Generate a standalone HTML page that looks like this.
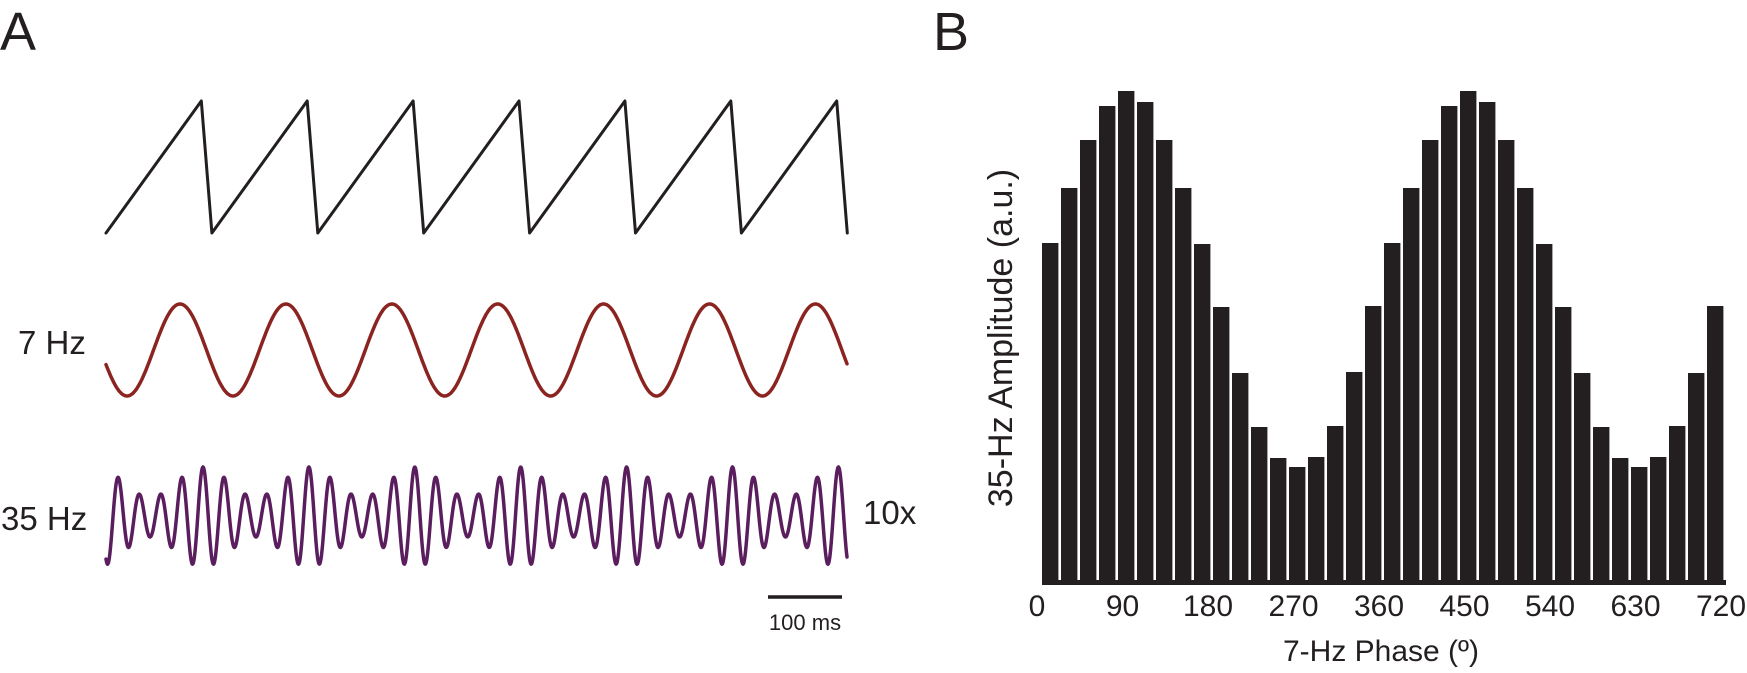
<!DOCTYPE html>
<html><head><meta charset="utf-8"><style>
html,body{margin:0;padding:0;background:#fff;}
svg{display:block;font-family:"Liberation Sans",Arial,sans-serif;}
</style></head><body>
<svg id="fig" width="1747" height="673" viewBox="0 0 1747 673">
<text x="0" y="50" font-size="54" fill="#231f20">A</text>
<text x="933" y="50" font-size="54" fill="#231f20">B</text>
<g id="panelA">
<text x="18" y="354" font-size="33" fill="#231f20">7 Hz</text>
<text x="1" y="530" font-size="33" fill="#231f20">35 Hz</text>
<text x="863" y="524" font-size="33" fill="#231f20">10x</text>
<line x1="768" y1="597" x2="842" y2="597" stroke="#231f20" stroke-width="3.5"/>
<text x="805" y="630" font-size="22" text-anchor="middle" fill="#231f20">100 ms</text>
</g>
<g id="panelB">
<text transform="translate(1012,338) rotate(-90)" font-size="34" text-anchor="middle" fill="#231f20">35-Hz Amplitude (a.u.)</text>
<text x="1381" y="661" font-size="30" text-anchor="middle" fill="#231f20">7-Hz Phase (º)</text>
</g>
</svg>
<script>
const phaseBins = [];
for (let i = 0; i < 36; i++) phaseBins.push(i * 20);
const amplitudes = [340,395,443,477,492,481,443,395,339,276,210,156,125,116,126,157,211,277,
                    340,395,443,477,492,481,443,395,339,276,210,156,125,116,126,157,210,277];
const tickLabels = [0,90,180,270,360,450,540,630,720];
const cycleCount = [7];
const carrierRatio = [5];
const envelopeDepth = [15];

const NS = "http://www.w3.org/2000/svg";
const gB = document.getElementById('panelB');
const gA = document.getElementById('panelA');

const x0 = 1037, x1 = 1721, base = 583, yScale = 1.0;
const xs = d => x0 + (d / 720) * (x1 - x0);
const ys = v => base - v * yScale;

phaseBins.forEach((p, i) => {
  const r = document.createElementNS(NS, 'rect');
  const xa = xs(p) + 5, xb = xs(p + 20) + 5;
  r.setAttribute('x', xa);
  r.setAttribute('y', ys(amplitudes[i]));
  r.setAttribute('width', xb - xa - 2.6);
  r.setAttribute('height', base + 2 - ys(amplitudes[i]));
  r.setAttribute('fill', '#231f20');
  
  
  gB.appendChild(r);
});
const baseLine = document.createElementNS(NS, 'rect');
baseLine.setAttribute('x', xs(0) + 5);
baseLine.setAttribute('y', base - 3);
baseLine.setAttribute('width', xs(720) - xs(0));
baseLine.setAttribute('height', 5);
baseLine.setAttribute('fill', '#231f20');


gB.appendChild(baseLine);
tickLabels.forEach(t => {
  const tx = document.createElementNS(NS, 'text');
  tx.setAttribute('x', xs(t));
  tx.setAttribute('y', 616);
  tx.setAttribute('font-size', '30');
  tx.setAttribute('text-anchor', 'middle');
  tx.setAttribute('fill', '#231f20');
  tx.textContent = t;
  
  
  gB.appendChild(tx);
});

const ax0 = 106, period = 105.9, ax1 = ax0 + period * cycleCount[0];
let saw = '';
for (let k = 0; k < cycleCount[0]; k++) {
  const s = ax0 + k * period;
  saw += (k === 0 ? 'M' : 'L') + s + ',233 L' + (s + period * 0.9) + ',101 ';
}
saw += 'L' + ax1 + ',233';
function addPath(d, color, w, name) {
  const p = document.createElementNS(NS, 'path');
  p.setAttribute('d', d);
  p.setAttribute('fill', 'none');
  p.setAttribute('stroke', color);
  p.setAttribute('stroke-width', w);
  p.setAttribute('stroke-linejoin', 'round');
  p.setAttribute('stroke-linecap', 'round');
  
  
  gA.appendChild(p);
}
addPath(saw, '#231f20', 3, 'sawtooth-phase-trace');
let sin = '';
for (let x = ax0; x <= ax1; x += 1) {
  const y = 350 - 46 * Math.cos(2 * Math.PI * (x - 180) / period);
  sin += (x === ax0 ? 'M' : 'L') + x.toFixed(1) + ',' + y.toFixed(1) + ' ';
}
addPath(sin, '#8b2420', 3.5, 'trace-7hz');
let f35 = '';
for (let x = ax0; x <= ax1; x += 0.5) {
  const env = 35 + envelopeDepth[0] * Math.cos(2 * Math.PI * (x - 203) / period);
  const y = 517 - env * Math.cos(2 * Math.PI * carrierRatio[0] * (x - 203) / period);
  f35 += (x === ax0 ? 'M' : 'L') + x.toFixed(1) + ',' + y.toFixed(1) + ' ';
}
addPath(f35, '#5a1e5e', 3.5, 'trace-35hz');
</script>
</body></html>
